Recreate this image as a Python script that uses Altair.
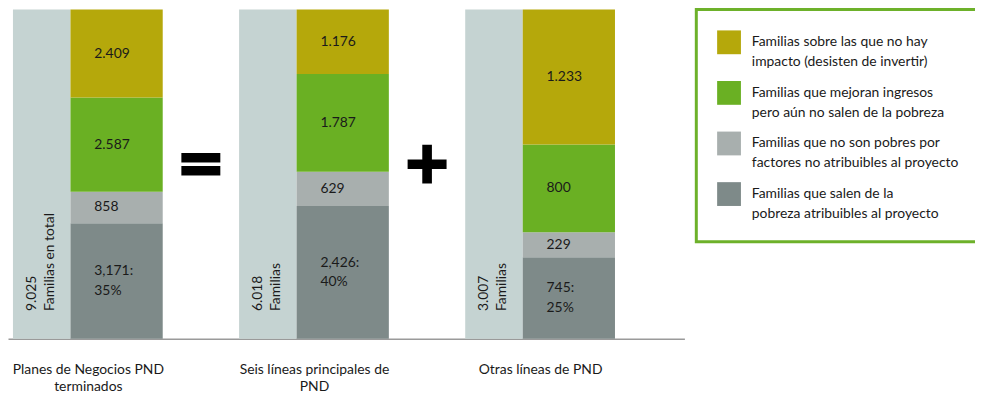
import json
import altair as alt
import pandas as pd

# ---------------- data ----------------
groups = ["Planes de Negocios PND|terminados", "Seis líneas principales de|PND", "Otras líneas de PND"]
totals = [9025, 6018, 3007]
total_labels = ["9.025|Familias en total", "6.018|Familias", "3.007|Familias"]

# stacking order: bottom -> top
categories = [
    "Familias que salen de la|pobreza atribuibles al proyecto",
    "Familias que no son pobres por|factores no atribuibles al proyecto",
    "Familias que mejoran ingresos|pero aún no salen de la pobreza",
    "Familias sobre las que no hay|impacto (desisten de invertir)",
]
colors = ["#7E8A89", "#A8AFAE", "#6AB023", "#B5A80B"]

salen = [3171, 2426, 745]
no_pobres = [858, 629, 229]
mejoran = [2587, 1787, 800]
sin_impacto = [2409, 1176, 1233]

salen_lbl = ["3,171:|35%", "2,426:|40%", "745:|25%"]
no_pobres_lbl = ["858", "629", "229"]
mejoran_lbl = ["2.587", "1.787", "800"]
sin_impacto_lbl = ["2.409", "1.176", "1.233"]

operators = ["=", "+"]

# ---------------- layout (group units) ----------------
STEP = 228.0
TW = 58 / STEP          # width of total bar
SE = 151 / STEP         # end of stacked bar
TXT = 82 / STEP         # x of segment labels
GAP_C = 189.5 / STEP    # centre of gap between groups
FONT = "Lato"
TOTAL_COLOR = "#C5D3D2"
BORDER = "#6DB12A"

seg_rows = []
series = [salen, no_pobres, mejoran, sin_impacto]
series_lbl = [salen_lbl, no_pobres_lbl, mejoran_lbl, sin_impacto_lbl]
for gi in range(len(groups)):
    for k, cat in enumerate(categories):
        seg_rows.append(dict(gi=gi, cat=cat, order=k, value=series[k][gi], lbl=series_lbl[k][gi]))
seg = pd.DataFrame(seg_rows)

tot = pd.DataFrame(dict(gi=list(range(len(groups))), total=totals, lbl=total_labels))
ops = pd.DataFrame(dict(gi=list(range(len(operators))), op=operators))

xscale = alt.Scale(domain=[-5 / STEP, 677 / STEP], nice=False, zero=False)
yscale = alt.Scale(domain=[0, 1], nice=False, zero=False)

label_expr = "split(" + json.dumps(groups, ensure_ascii=False) + "[floor(datum.value)], '|')"
xaxis = alt.Axis(
    values=[gi + SE / 2 for gi in range(len(groups))],
    labelExpr=label_expr, title=None, ticks=False, grid=False,
    domainColor="#9a9a9a", domainWidth=1.5,
    labelFont=FONT, labelFontSize=14, labelColor="#1a1a1a",
    labelPadding=24, labelBaseline="top", labelLineHeight=17,
    labelOverlap=False, labelFlush=False, labelLimit=300, labelAlign="center")


def X(field):
    return alt.X(field, scale=xscale, axis=xaxis)


def Y(field):
    return alt.Y(field, scale=yscale, axis=None)


tot_base = alt.Chart(tot).transform_stack(
    stack="total", groupby=["gi"], as_=["t0", "t1"], offset="normalize"
).transform_calculate(
    xs="datum.gi", xe=f"datum.gi + {TW}", xc=f"datum.gi + {TW / 2}",
    lines="split(datum.lbl, '|')"
)

total_rect = tot_base.mark_rect(color=TOTAL_COLOR).encode(
    x=X("xs:Q"), x2="xe:Q", y=Y("t0:Q"), y2="t1:Q",
)

total_text = tot_base.mark_text(
    angle=270, align="left", baseline="middle", font=FONT, fontSize=14,
    lineHeight=18, color="#1a1a1a", dx=28, dy=-10
).encode(
    x=X("xc:Q"), y=Y("t0:Q"), text="lines:N",
)

seg_base = alt.Chart(seg).transform_stack(
    stack="value", groupby=["gi"], as_=["y0", "y1"], offset="normalize",
    sort=[alt.SortField("order", order="ascending")]
).transform_calculate(
    xs=f"datum.gi + {TW}", xe=f"datum.gi + {SE}", xt=f"datum.gi + {TXT}",
    ym="(datum.y0 + datum.y1) / 2", lines="split(datum.lbl, '|')",
    nl="length(split(datum.lbl, '|'))"
)

seg_rect = seg_base.mark_rect().encode(
    x=X("xs:Q"), x2="xe:Q", y=Y("y0:Q"), y2="y1:Q",
    color=alt.Color("cat:N", scale=alt.Scale(domain=categories[::-1], range=colors[::-1]),
                    legend=alt.Legend(
                        title=None, orient="none", legendX=694, legendY=0,
                        direction="vertical", symbolType="square", symbolSize=576,
                        symbolStrokeWidth=0, symbolOpacity=1,
                        labelFont=FONT, labelFontSize=14,
                        labelBaseline="middle", labelLimit=400, labelOffset=11,
                        labelColor="#1a1a1a", rowPadding=12, padding=21,
                        labelExpr="split(datum.label, '|')",
                        fillColor="white", strokeColor=BORDER)),
)

seg_text_1 = seg_base.transform_filter("datum.nl == 1").mark_text(
    align="left", baseline="middle", font=FONT, fontSize=14, lineHeight=20, color="#1a1a1a"
).encode(x=X("xt:Q"), y=Y("ym:Q"), text="lines:N")

seg_text_2 = seg_base.transform_filter("datum.nl == 2").mark_text(
    align="left", baseline="middle", font=FONT, fontSize=14, lineHeight=20, color="#1a1a1a",
    dy=-10
).encode(x=X("xt:Q"), y=Y("ym:Q"), text="lines:N")

ops_text = alt.Chart(ops).transform_calculate(
    xo=f"datum.gi + {GAP_C}"
).mark_text(
    font="DejaVu Sans", fontWeight="bold", fontSize=58, color="black",
    stroke="black", strokeWidth=3, align="center", baseline="middle"
).encode(
    x=X("xo:Q"), y=alt.value(157), text="op:N",
)

chart = alt.layer(total_rect, seg_rect, seg_text_1, seg_text_2, total_text, ops_text).properties(
    width=682, height=332,
    padding={"left": 0, "top": 0, "right": 293, "bottom": 55},
    autosize=alt.AutoSizeParams(type="none"),
).configure(
    view=alt.ViewConfig(stroke=None),
    legend=alt.LegendConfig(strokeWidth=3),
    style={"guide-label": {"lineHeight": 20}},
)

chart.save("out.html", embed_options={"renderer": "svg", "actions": False})
